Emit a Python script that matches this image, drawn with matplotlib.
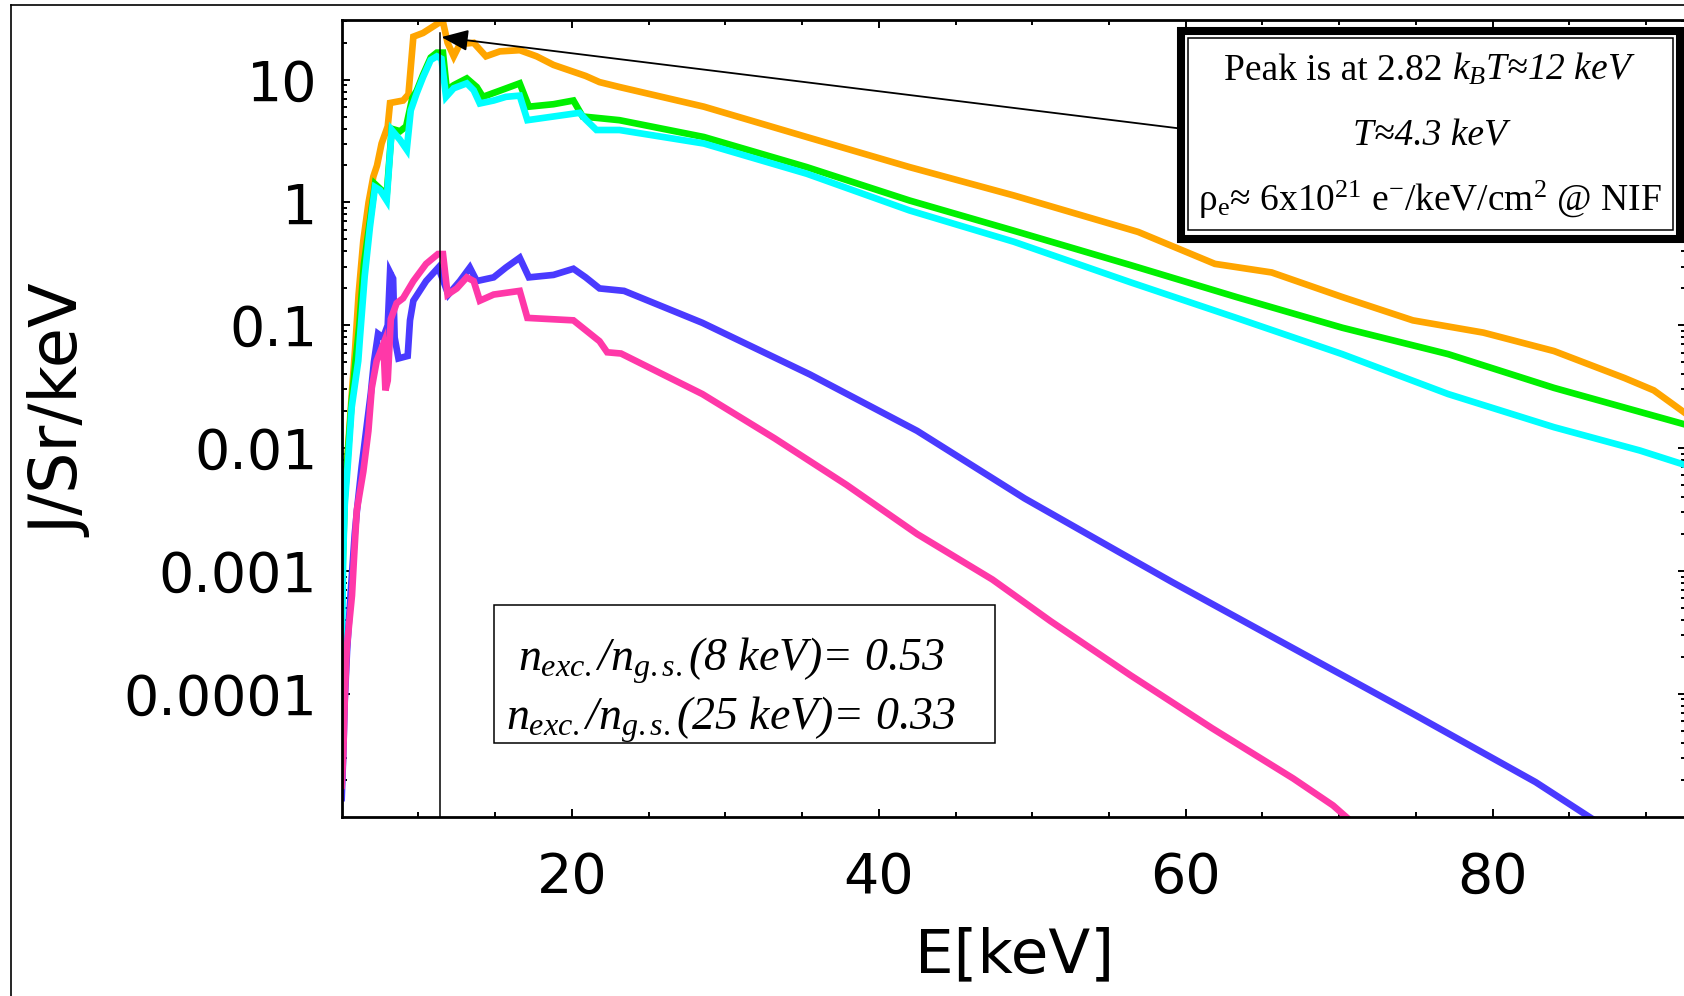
import matplotlib
matplotlib.use('Agg')
import matplotlib.pyplot as plt
import numpy as np
from matplotlib.patches import Rectangle
from matplotlib.lines import Line2D
from matplotlib.ticker import FixedLocator, FixedFormatter, NullFormatter

plt.rcParams['font.family'] = ['DejaVu Sans']
plt.rcParams['mathtext.fontset'] = 'custom'
plt.rcParams['mathtext.rm'] = 'Liberation Serif'
plt.rcParams['mathtext.it'] = 'Liberation Serif:italic'
plt.rcParams['mathtext.bf'] = 'Liberation Serif:bold'

# ---------------- data (energy in keV, log10 of J/Sr/keV) ----------------
orange_E = [5.0, 5.2, 5.43, 5.65, 5.87, 6.1, 6.41, 6.75, 7.06, 7.3, 7.6, 8.0, 8.15, 9.0, 9.35, 9.67,
            10.3, 10.8, 11.3, 11.6, 11.9, 12.3, 12.7, 13.6, 14.4, 15.3, 16.6, 17.7, 18.8, 20.9,
            21.8, 23.1, 28.6, 35.3, 42.0, 48.8, 56.9, 61.9, 65.6, 70.2, 74.8, 79.4, 84.0, 88.6,
            90.5, 92.6]
orange_log10 = [-2.75, -2.35, -1.97, -1.57, -1.2, -0.75, -0.31, 0.0, 0.21, 0.3, 0.48, 0.62, 0.81,
                0.83, 0.88, 1.35, 1.38, 1.42, 1.46, 1.47, 1.3, 1.19, 1.29, 1.3, 1.19, 1.23, 1.24,
                1.19, 1.12, 1.03, 0.98, 0.94, 0.78, 0.533, 0.288, 0.057, -0.24, -0.50, -0.57,
                -0.77, -0.96, -1.06, -1.21, -1.43, -1.53, -1.72]

green_E = [5.0, 5.1, 5.2, 5.43, 5.65, 5.9, 6.15, 6.45, 6.84, 7.17, 7.6, 7.93, 8.26, 8.8, 9.2, 9.6,
           9.89, 10.3, 10.8, 11.2, 11.6, 11.85, 12.3, 13.15, 13.8, 14.2, 15.3, 16.6, 17.2, 18.8,
           20.1, 20.7, 23.1, 28.6, 35.3, 42.0, 48.8, 56.4, 63.3, 70.2, 77.1, 84.0, 92.6]
green_log10 = [-3.2, -2.81, -2.4, -2.0, -1.62, -1.3, -1.0, -0.5, -0.15, 0.15, 0.1, 0.06, 0.6, 0.58,
               0.62, 0.85, 0.91, 1.04, 1.18, 1.22, 1.22, 0.914, 0.955, 1.01, 0.94, 0.86, 0.91,
               0.97, 0.78, 0.80, 0.83, 0.70, 0.67, 0.533, 0.288, 0.016, -0.23, -0.51, -0.77,
               -1.02, -1.235, -1.51, -1.81]

cyan_E = [5.0, 5.05, 5.1, 5.2, 5.43, 5.65, 6.08, 6.19, 6.5, 6.84, 7.17, 7.5, 7.93, 8.26, 8.8, 9.24,
          9.5, 9.89, 10.3, 10.8, 11.2, 11.5, 11.8, 12.3, 13.15, 13.6, 14.0, 14.9, 15.7, 16.6,
          17.1, 18.8, 20.5, 20.9, 21.6, 23.1, 28.6, 35.3, 42.0, 48.8, 56.4, 63.3, 70.2, 77.1,
          84.0, 89.6, 92.6]
cyan_log10 = [-3.7, -3.3, -2.87, -2.46, -2.08, -1.67, -1.29, -1.1, -0.6, -0.2, 0.125, 0.1, 0.016,
              0.59, 0.51, 0.43, 0.75, 0.89, 1.02, 1.16, 1.19, 1.17, 0.86, 0.93, 0.97, 0.914,
              0.806, 0.83, 0.86, 0.87, 0.67, 0.70, 0.73, 0.675, 0.59, 0.59, 0.48, 0.234, -0.065,
              -0.32, -0.65, -0.94, -1.235, -1.56, -1.83, -2.02, -2.14]

blue_E = [5.0, 5.1, 5.2, 5.35, 5.6, 5.85, 6.0, 6.3, 6.6, 6.9, 7.1, 7.37, 7.7, 8.0, 8.15, 8.35, 8.45,
          8.7, 9.3, 9.45, 9.67, 10.5, 11.3, 11.95, 12.7, 13.35, 13.8, 14.9, 15.7, 16.6, 17.2,
          18.8, 20.1, 20.9, 21.8, 23.4, 28.5, 35.5, 42.5, 49.5, 55.7, 59.1, 67.0, 74.9, 82.8,
          86.5]
blue_log10 = [-4.85, -4.5, -4.05, -3.65, -3.15, -2.7, -2.5, -2.15, -1.85, -1.55, -1.3, -1.07,
              -1.1, -1.0, -0.57, -0.62, -1.1, -1.27, -1.25, -0.96, -0.80, -0.64, -0.53, -0.75,
              -0.64, -0.53, -0.64, -0.61, -0.53, -0.45, -0.61, -0.59, -0.54, -0.61, -0.70,
              -0.72, -0.98, -1.40, -1.86, -2.41, -2.85, -3.09, -3.63, -4.17, -4.72, -5.02]

pink_E = [5.0, 5.1, 5.2, 5.33, 5.67, 5.8, 5.98, 6.41, 6.74, 6.96, 7.28, 7.72, 7.85, 8.0, 8.2, 8.58,
          9.0, 9.67, 10.5, 11.27, 11.6, 11.9, 12.5, 13.15, 13.6, 14.0, 14.9, 16.6, 17.1, 20.1,
          20.9, 21.8, 22.3, 23.2, 28.5, 33.2, 37.9, 42.5, 47.4, 51.2, 56.4, 61.7, 67.0, 69.6,
          70.6]
pink_log10 = [-4.75, -4.5, -4.04, -3.63, -3.2, -2.9, -2.51, -2.19, -1.86, -1.51, -1.29, -1.15,
              -1.53, -1.45, -0.95, -0.82, -0.78, -0.64, -0.50, -0.42, -0.42, -0.75, -0.70,
              -0.61, -0.64, -0.80, -0.75, -0.72, -0.94, -0.96, -1.04, -1.13, -1.22, -1.23,
              -1.56, -1.92, -2.30, -2.70, -3.07, -3.41, -3.85, -4.28, -4.69, -4.91, -5.02]

x_major = [20, 40, 60, 80]
x_minor = [10, 15, 25, 30, 35, 45, 50, 55, 65, 70, 75, 85, 90]
y_major = [1e-4, 1e-3, 1e-2, 1e-1, 1, 10]
y_major_labels = ['0.0001', '0.001', '0.01', '0.1', '1', '10']

peak_E = 11.4          # vertical marker line
peak_top = 23.8
arrow_tip = (11.5, 22.2)
arrow_tail = (59.5, 4.02)

series = [
    (orange_E, orange_log10, '#FFA500'),
    (green_E, green_log10, '#00F000'),
    (cyan_E, cyan_log10, '#00FFFF'),
    (blue_E, blue_log10, '#4A3AFF'),
    (pink_E, pink_log10, '#FF38A8'),
]

# ---------------- figure ----------------
W, H = 1684, 996
fig = plt.figure(figsize=(W / 100, H / 100), dpi=100)
renderer = fig.canvas.get_renderer()


def fx(px):
    return px / W


def fy(py):
    return 1 - py / H


ax = fig.add_axes([fx(341.7), fy(816.5), fx(1686) - fx(341.7), fy(20) - fy(816.5)])
ax.set_yscale('log')

for E, lg, c in series:
    ax.plot(E, 10 ** np.array(lg), color=c, lw=4.8, solid_joinstyle='miter', zorder=2)

ax.plot([peak_E, peak_E], [1e-6, peak_top], color='black', lw=1.1, zorder=4)
ax.annotate('', xy=arrow_tip, xytext=arrow_tail,
            arrowprops=dict(arrowstyle='-|>,head_length=0.55,head_width=0.22',
                            mutation_scale=30, lw=1.3, color='black',
                            shrinkA=0, shrinkB=0), zorder=4)

ax.set_xlim(5, 92.6)
ax.set_ylim(1e-5, 30.6)

ax.xaxis.set_major_locator(FixedLocator(x_major))
ax.xaxis.set_minor_locator(FixedLocator(x_minor))
ax.yaxis.set_major_locator(FixedLocator(y_major))
ax.yaxis.set_major_formatter(FixedFormatter(y_major_labels))
yminor = [k * 10.0 ** n for n in range(-5, 2) for k in range(2, 10) if k * 10.0 ** n < 30.6]
ax.yaxis.set_minor_locator(FixedLocator(yminor))
ax.yaxis.set_minor_formatter(NullFormatter())

ax.tick_params(which='both', direction='in', top=True, right=True, width=1.4, colors='black')
ax.tick_params(which='major', length=6)
ax.tick_params(which='minor', length=3.3)
ax.tick_params(axis='x', which='major', labelsize=40, pad=24.5)
ax.tick_params(axis='y', which='major', labelsize=40, pad=17.5)
for s in ax.spines.values():
    s.set_linewidth(2)

# axis labels
fig.text(fx(1015), fy(972), 'E[keV]', ha='center', va='baseline', fontsize=44)
fig.text(fx(62), fy(411), 'J/Sr/keV', rotation=90, ha='center', va='center', fontsize=47)

# outer frame
fig.add_artist(Line2D([fx(11), fx(11)], [0, fy(5)], color='black', lw=1.2))
fig.add_artist(Line2D([fx(11), 1], [fy(5), fy(5)], color='black', lw=1.2))

# top-right double-bordered box
fig.add_artist(Rectangle((fx(1181), fy(239)), fx(1680) - fx(1181), fy(31) - fy(239),
                         transform=fig.transFigure, facecolor='white', edgecolor='black',
                         lw=5.8, zorder=5))
fig.add_artist(Rectangle((fx(1188), fy(230)), fx(1673) - fx(1188), fy(38) - fy(230),
                         transform=fig.transFigure, fill=False, edgecolor='black',
                         lw=1.1, zorder=6))
serif = 'Liberation Serif'


def centered_pair(cx_px, base_px, left_str, right_str, size, gap_px):
    tA = fig.text(0, fy(base_px), left_str, ha='left', va='baseline', fontsize=size,
                  family=serif, zorder=7)
    tB = fig.text(0, fy(base_px), right_str, ha='left', va='baseline', fontsize=size,
                  family=serif, style='italic', zorder=7)
    wA = tA.get_window_extent(renderer).width
    wB = tB.get_window_extent(renderer).width
    x0 = cx_px - (wA + gap_px + wB) / 2
    tA.set_x(x0 / W)
    tB.set_x((x0 + wA + gap_px) / W)


centered_pair(1430, 80, "Peak is at 2.82", r"$k_BT$≈12 keV", 27, 9)
fig.text(fx(1430), fy(145), "T≈4.3 keV", ha='center', va='baseline', fontsize=27,
         family=serif, style='italic', zorder=7)
fig.text(fx(1430), fy(211), r"ρ$_\mathrm{e}$≈ 6x10$^{21}$ e$^{-}$/keV/cm$^{2}$ @ NIF",
         ha='center', va='baseline', fontsize=27, family=serif, zorder=7)

# bottom-left box
fig.add_artist(Rectangle((fx(494), fy(743)), fx(995) - fx(494), fy(605) - fy(743),
                         transform=fig.transFigure, facecolor='white', edgecolor='black',
                         lw=1.1, zorder=5))
fig.text(fx(731), fy(670.7), r"$n_{exc.}$/$n_{g.s.}$(8 keV)= 0.53",
         ha='center', va='baseline', fontsize=33, family=serif, style='italic', zorder=7)
fig.text(fx(731), fy(730), r"$n_{exc.}$/$n_{g.s.}$(25 keV)= 0.33",
         ha='center', va='baseline', fontsize=33, family=serif, style='italic', zorder=7)

fig.savefig('out.png', dpi=100)
